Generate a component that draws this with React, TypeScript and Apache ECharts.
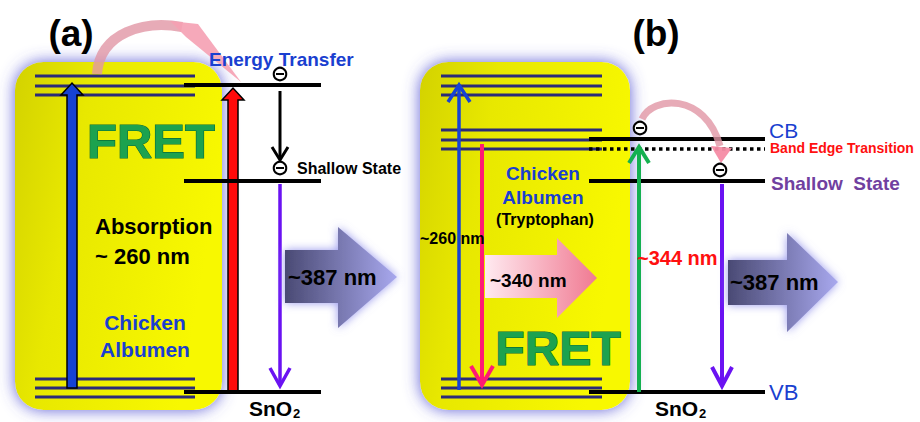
import React, { useEffect, useRef } from "react";
import * as echarts from "echarts";

// ---- diagram content ----
const panelLabels = ["(a)", "(b)"];
const donorName = ["Chicken", "Albumen"];
const donorExtra = "(Tryptophan)";
const processLabels = ["Energy Transfer", "FRET", "Absorption"];
const excitationLabels = ["~ 260 nm", "~260 nm", "~340 nm", "~344 nm"];
const emissionLabels = ["~387 nm", "~387 nm"];
const stateLabels = ["CB", "Band Edge Transition", "Shallow  State", "VB", "Shallow State"];
const hostLabel = ["SnO", "2"];

const BLUE = "#1a3fd0";
const NAVY = "#2b2b78";
const SHADOW = { shadowColor: "rgba(0,0,0,0.35)", shadowBlur: 2, shadowOffsetX: 1, shadowOffsetY: 1 };
const FONT = "Liberation Sans, Arial, sans-serif";

function line(x1: number, y1: number, x2: number, y2: number, stroke: string, lineWidth: number, extra: any = {}) {
  return { type: "line", shape: { x1, y1, x2, y2 }, style: { stroke, lineWidth, ...extra } };
}
function txt(text: string, x: number, y: number, size: number, fill: string, bold = true, align = "left", extra: any = {}) {
  return {
    type: "text",
    style: {
      text, x, y, fill,
      font: `${bold ? "bold " : ""}${size}px ${FONT}`,
      textAlign: align, textVerticalAlign: "middle",
      ...extra,
    },
  };
}
function thinArrow(x: number, from: number, to: number, color: string, w: number, hw: number, hh: number) {
  const dir = to < from ? 1 : -1;
  return [
    line(x, from, x, to + dir * 1, color, w),
    {
      type: "polyline",
      shape: { points: [[x - hw, to + dir * hh], [x, to], [x + hw, to + dir * hh]] },
      style: { stroke: color, lineWidth: w, fill: null, lineJoin: "miter" },
    },
  ];
}
function thickArrow(x: number, bottom: number, tip: number, color: string) {
  const sw = 5, hw = 11, hh = 12;
  return {
    type: "polygon",
    shape: {
      points: [[x - sw, bottom], [x - sw, tip + hh], [x - hw, tip + hh], [x, tip], [x + hw, tip + hh], [x + sw, tip + hh], [x + sw, bottom]],
    },
    style: { fill: color, stroke: "#000", lineWidth: 1.5 },
  };
}
function blockArrow(x0: number, x1: number, x2: number, by0: number, by1: number, hy0: number, hy1: number, ty: number, c0: string, c1: string, glow: string) {
  return {
    type: "polygon",
    shape: { points: [[x0, by0], [x1, by0], [x1, hy0], [x2, ty], [x1, hy1], [x1, by1], [x0, by1]] },
    style: {
      fill: new echarts.graphic.LinearGradient(0, 0, 1, 0, [
        { offset: 0, color: c0 },
        { offset: 1, color: c1 },
      ]),
      shadowColor: glow, shadowBlur: 10,
    },
  };
}
function electron(x: number, y: number) {
  return [
    { type: "circle", shape: { cx: x, cy: y, r: 6.3 }, style: { fill: "#fff", stroke: "#000", lineWidth: 2 } },
    line(x - 4, y, x + 4, y, "#000", 2),
  ];
}
function box(x: number, y: number, w: number, h: number) {
  return {
    type: "rect",
    shape: { x, y, width: w, height: h, r: 28 },
    style: {
      fill: new echarts.graphic.LinearGradient(0, 0, 1, 0.3, [
        { offset: 0, color: "#d3d200" },
        { offset: 0.35, color: "#e8e800" },
        { offset: 1, color: "#f8f800" },
      ]),
      shadowColor: "rgba(80,80,210,0.9)", shadowBlur: 16,
    },
  };
}

export default function App() {
  const ref = useRef<HTMLDivElement>(null);
  useEffect(() => {
    document.body.style.margin = "0";
    const chart = echarts.init(ref.current!, null, { renderer: "svg" });
    const els: any[] = [];

    // ---------- panel (a) ----------
    els.push(box(15, 62, 207, 348));
    [76, 86, 95, 379, 388, 397].forEach((y) => els.push(line(35, y, 195, y, NAVY, 3)));
    // pink energy-transfer ribbon
    els.push({
      type: "bezierCurve",
      shape: { x1: 97, y1: 74, cpx1: 100, cpy1: 32, cpx2: 145, cpy2: 20, x2: 182, y2: 27 },
      style: { stroke: "rgba(225,150,165,0.8)", lineWidth: 10, fill: null },
    });
    els.push({
      type: "polygon",
      shape: { points: [[170, 21], [198, 24], [241, 82], [186, 37]] },
      style: { fill: "rgba(245,160,178,0.9)" },
    });
    els.push(thickArrow(72, 388, 83, "#1642d4"));
    els.push(thickArrow(233, 391, 88, "#ff0a0a"));
    [85, 181, 392].forEach((y) => els.push(line(184, y, 321, y, "#000", 4)));
    els.push(...electron(280, 74));
    els.push(...electron(280, 168));
    els.push(...thinArrow(280, 91, 160, "#000", 3, 8, 13));
    els.push(...thinArrow(280, 184, 386, "#6a12f2", 3.5, 10, 18));
    els.push(blockArrow(285, 338, 397, 250, 303, 227, 328, 277, "#4a4a74", "#a8a8ee", "rgba(140,140,235,0.9)"));

    els.push(txt(panelLabels[0], 71, 33, 37, "#000", true, "center"));
    els.push(txt(processLabels[0], 209, 59, 19, BLUE, true, "left", SHADOW));
    els.push(txt(stateLabels[4], 297, 168, 16, "#000", true, "left", SHADOW));
    els.push(txt(processLabels[1], 151, 141, 49, "#1ca24f", true, "center", { stroke: "#0c6a34", lineWidth: 1.2, ...SHADOW }));
    els.push(txt(processLabels[2], 95, 226, 22, "#000", true, "left", SHADOW));
    els.push(txt(excitationLabels[0], 95, 256, 22, "#000", true, "left", SHADOW));
    els.push(txt(donorName[0], 145, 322, 21, BLUE, true, "center", SHADOW));
    els.push(txt(donorName[1], 145, 349, 21, BLUE, true, "center", SHADOW));
    els.push(txt(emissionLabels[0], 288, 277, 22, "#000", true, "left", SHADOW));
    els.push(txt(hostLabel[0], 249, 408, 21, "#000", true, "left"));
    els.push(txt(hostLabel[1], 293, 413, 13, "#000", true, "left"));

    // ---------- panel (b) ----------
    els.push(box(420, 62, 210, 348));
    [76, 86, 95, 130, 140, 149, 379, 388, 397].forEach((y) => els.push(line(441, y, 602, y, NAVY, 3)));
    els.push(...thinArrow(459, 390, 85, "#1642d4", 3.5, 11, 17));
    els.push(...thinArrow(482, 144, 385, "#ff1a75", 4, 11, 19));
    els.push(blockArrow(485, 557, 597, 255, 298, 238, 318, 278, "#ffeaf0", "#f07a92", "rgba(255,255,255,0)"));
    [139, 181, 392].forEach((y) => els.push(line(589, y, 765, y, "#000", 4)));
    els.push(line(589, 149, 765, 149, "#000", 3.5, { lineDash: [3.5, 3.5] }));
    els.push(...thinArrow(639, 392, 147, "#14b050", 4, 10, 16));
    els.push(...thinArrow(722, 184, 386, "#6a12f2", 4, 10, 19));
    els.push({
      type: "bezierCurve",
      shape: { x1: 642, y1: 119, cpx1: 652, cpy1: 96, cpx2: 705, cpy2: 92, x2: 720, y2: 146 },
      style: { stroke: "rgba(225,150,165,0.8)", lineWidth: 7, fill: null },
    });
    els.push({
      type: "polygon",
      shape: { points: [[711, 146], [732, 148], [721, 163]] },
      style: { fill: "rgba(245,140,165,0.95)" },
    });
    els.push(...electron(640, 128));
    els.push(...electron(720, 170));
    els.push(blockArrow(728, 787, 838, 260, 305, 233, 332, 282, "#4a4a74", "#a8a8ee", "rgba(140,140,235,0.9)"));

    els.push(txt(panelLabels[1], 656, 33, 37, "#000", true, "center"));
    els.push(txt(donorName[0], 543, 173, 19, BLUE, true, "center", SHADOW));
    els.push(txt(donorName[1], 543, 197, 19, BLUE, true, "center", SHADOW));
    els.push(txt(donorExtra, 545, 219, 16, "#000", true, "center", SHADOW));
    els.push(txt(excitationLabels[1], 420, 238, 16, "#000", true, "left", SHADOW));
    els.push(txt(excitationLabels[2], 490, 280, 19, "#000", true, "left", SHADOW));
    els.push(txt(excitationLabels[3], 637, 258, 20, "#ff1010", true, "left", SHADOW));
    els.push(txt(processLabels[1], 558, 348, 48, "#1ca24f", true, "center", { stroke: "#0c6a34", lineWidth: 1.2, ...SHADOW }));
    els.push(txt(emissionLabels[1], 730, 282, 22, "#000", true, "left", SHADOW));
    els.push(txt(stateLabels[0], 769, 130, 21, BLUE, false, "left"));
    els.push(txt(stateLabels[1], 770, 148, 14, "#ff1010", true, "left"));
    els.push(txt(stateLabels[2], 771, 183, 19, "#7040a0", true, "left"));
    els.push(txt(stateLabels[3], 769, 392, 22, BLUE, false, "left"));
    els.push(txt(hostLabel[0], 655, 408, 21, "#000", true, "left"));
    els.push(txt(hostLabel[1], 699, 413, 13, "#000", true, "left"));

    chart.setOption({ animation: false, graphic: { elements: els } });
    return () => chart.dispose();
  }, []);
  return <div ref={ref} style={{ width: 920, height: 422, background: "#fff" }} />;
}
